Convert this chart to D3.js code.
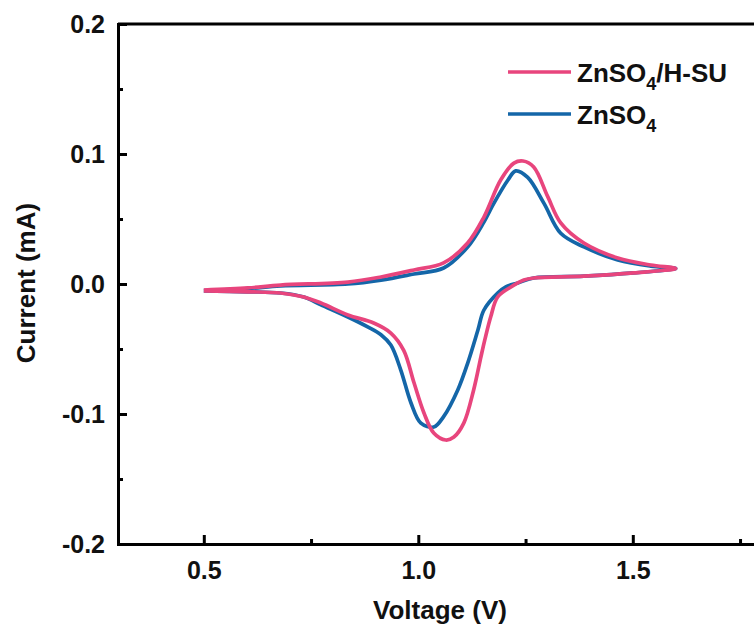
<!DOCTYPE html>
<html>
<head>
<meta charset="utf-8">
<script src="https://cdn.jsdelivr.net/npm/d3@7"></script>
<style>
  html, body { margin: 0; padding: 0; background: #fff; }
  svg { display: block; }
  text { font-family: "Liberation Sans", Arial, sans-serif; font-weight: bold; fill: #111; }
</style>
</head>
<body>
<svg id="chart" width="754" height="631"></svg>
<script>
// Cyclic voltammetry loops: voltage sweeps 0.5 → 1.6 V and back to 0.5 V
const hsuVoltage = [0.500, 0.603, 0.679, 0.836, 0.913, 0.990, 1.059, 1.115, 1.153, 1.192, 1.223, 1.244, 1.269, 1.302, 1.332, 1.386, 1.465, 1.542, 1.600,
  1.502, 1.386, 1.269, 1.246, 1.216, 1.185, 1.169, 1.155, 1.146, 1.129, 1.106, 1.083, 1.064, 1.036, 1.013, 0.990, 0.966, 0.936, 0.896, 0.836, 0.773, 0.733, 0.679, 0.603, 0.500];
const hsuCurrent = [-0.0046, -0.0030, -0.0008, 0.0015, 0.0054, 0.0108, 0.0162, 0.0315, 0.0515, 0.0800, 0.0930, 0.0946, 0.0900, 0.0670, 0.0470, 0.0315, 0.0200, 0.0146, 0.0120,
  0.0085, 0.0060, 0.0046, 0.0030, -0.0023, -0.0100, -0.0250, -0.0430, -0.0560, -0.0815, -0.1070, -0.1177, -0.1200, -0.1146, -0.0990, -0.0760, -0.0510, -0.0377, -0.0300, -0.0238, -0.0146, -0.0100, -0.0069, -0.0060, -0.0054];

const znVoltage = [0.500, 0.603, 0.679, 0.836, 0.913, 0.990, 1.059, 1.115, 1.153, 1.176, 1.209, 1.227, 1.255, 1.293, 1.332, 1.386, 1.465, 1.542, 1.600,
  1.502, 1.386, 1.269, 1.232, 1.204, 1.185, 1.153, 1.139, 1.115, 1.092, 1.059, 1.036, 1.006, 0.983, 0.959, 0.936, 0.913, 0.882, 0.836, 0.773, 0.733, 0.679, 0.603, 0.500];
const znCurrent = [-0.0050, -0.0035, -0.0015, 0.0000, 0.0030, 0.0077, 0.0123, 0.0285, 0.0477, 0.0620, 0.0800, 0.0870, 0.0820, 0.0620, 0.0390, 0.0285, 0.0185, 0.0138, 0.0120,
  0.0085, 0.0060, 0.0046, 0.0008, -0.0023, -0.0070, -0.0200, -0.0354, -0.0610, -0.0815, -0.1020, -0.1100, -0.1070, -0.0915, -0.0660, -0.0470, -0.0390, -0.0330, -0.0254, -0.0160, -0.0100, -0.0069, -0.0060, -0.0054];

const seriesNames = ["ZnSO4/H-SU", "ZnSO4"];
const seriesColors = ["#e8457d", "#1466a8"];

const xMajorTicks = [0.5, 1.0, 1.5];
const xMinorTicks = [0.75, 1.25, 1.75];
const yMajorTicks = [-0.2, -0.1, 0.0, 0.1, 0.2];
const yMinorTicks = [-0.15, -0.05, 0.05, 0.15];

const svg = d3.select("#chart");
const plotLeft = 118, plotTop = 24, plotBottom = 544;

const x = d3.scaleLinear().domain([0.3, 1.8]).range([plotLeft, plotLeft + 1.5 * 429]);
const y = d3.scaleLinear().domain([-0.2, 0.2]).range([plotBottom, plotTop]);

// Series paths (blue underneath, pink on top)
const line = d3.line().x(d => x(d[0])).y(d => y(d[1])).curve(d3.curveCatmullRom.alpha(0.5));
const znPts = d3.zip(znVoltage, znCurrent);
const hsuPts = d3.zip(hsuVoltage, hsuCurrent);
svg.append("path").datum(znPts).attr("d", line)
  .attr("fill", "none").attr("stroke", seriesColors[1]).attr("stroke-width", 3.7).attr("stroke-linejoin", "round");
svg.append("path").datum(hsuPts).attr("d", line)
  .attr("fill", "none").attr("stroke", seriesColors[0]).attr("stroke-width", 3.7).attr("stroke-linejoin", "round");

// Axes: ticks point into the plot; labels use a plain hyphen for negatives
const fmt = v => d3.format(".1f")(v).replace("\u2212", "-");
const xAxis = svg.append("g").attr("transform", `translate(0,${plotBottom})`)
  .call(d3.axisBottom(x).tickValues(xMajorTicks).tickFormat(fmt).tickSizeInner(-9).tickSizeOuter(0).tickPadding(17));
const xMinor = svg.append("g").attr("transform", `translate(0,${plotBottom})`)
  .call(d3.axisBottom(x).tickValues(xMinorTicks).tickFormat("").tickSizeInner(-5).tickSizeOuter(0));
const yAxis = svg.append("g").attr("transform", `translate(${plotLeft},0)`)
  .call(d3.axisLeft(y).tickValues(yMajorTicks).tickFormat(fmt).tickSizeInner(-9).tickSizeOuter(0).tickPadding(13));
const yMinor = svg.append("g").attr("transform", `translate(${plotLeft},0)`)
  .call(d3.axisLeft(y).tickValues(yMinorTicks).tickFormat("").tickSizeInner(-5).tickSizeOuter(0));

[xAxis, xMinor, yAxis, yMinor].forEach(g => {
  g.select(".domain").attr("stroke", "#000").attr("stroke-width", 3).attr("stroke-linecap", "square");
  g.selectAll(".tick line").attr("stroke", "#000").attr("stroke-width", 3);
  g.selectAll(".tick text").style("font-size", "25px").style("font-family", "'Liberation Sans', Arial, sans-serif").style("font-weight", "bold").attr("fill", "#111");
});
xAxis.selectAll(".tick text").attr("dy", "0.71em");

// Top frame line
svg.append("line").attr("x1", plotLeft).attr("x2", 760).attr("y1", plotTop).attr("y2", plotTop)
  .attr("stroke", "#000").attr("stroke-width", 3);

// Axis titles
svg.append("text").attr("x", 440).attr("y", 619).attr("text-anchor", "middle")
  .style("font-size", "26px").text("Voltage (V)");
svg.append("text").attr("transform", "translate(35,283) rotate(-90)").attr("text-anchor", "middle")
  .style("font-size", "26px").text("Current (mA)");

// Legend
const legendRows = [
  { color: seriesColors[0], y: 72, base: "ZnSO", sub: "4", tail: "/H-SU" },
  { color: seriesColors[1], y: 114, base: "ZnSO", sub: "4", tail: "" }
];
legendRows.forEach(r => {
  svg.append("line").attr("x1", 508).attr("x2", 571).attr("y1", r.y).attr("y2", r.y)
    .attr("stroke", r.color).attr("stroke-width", 3.7);
  const t = svg.append("text").attr("x", 577).attr("y", r.y + 10).style("font-size", "26px");
  t.append("tspan").text(r.base);
  t.append("tspan").attr("dy", 8).style("font-size", "18px").text(r.sub);
  if (r.tail) t.append("tspan").attr("dy", -8).text(r.tail);
});
</script>
</body>
</html>
